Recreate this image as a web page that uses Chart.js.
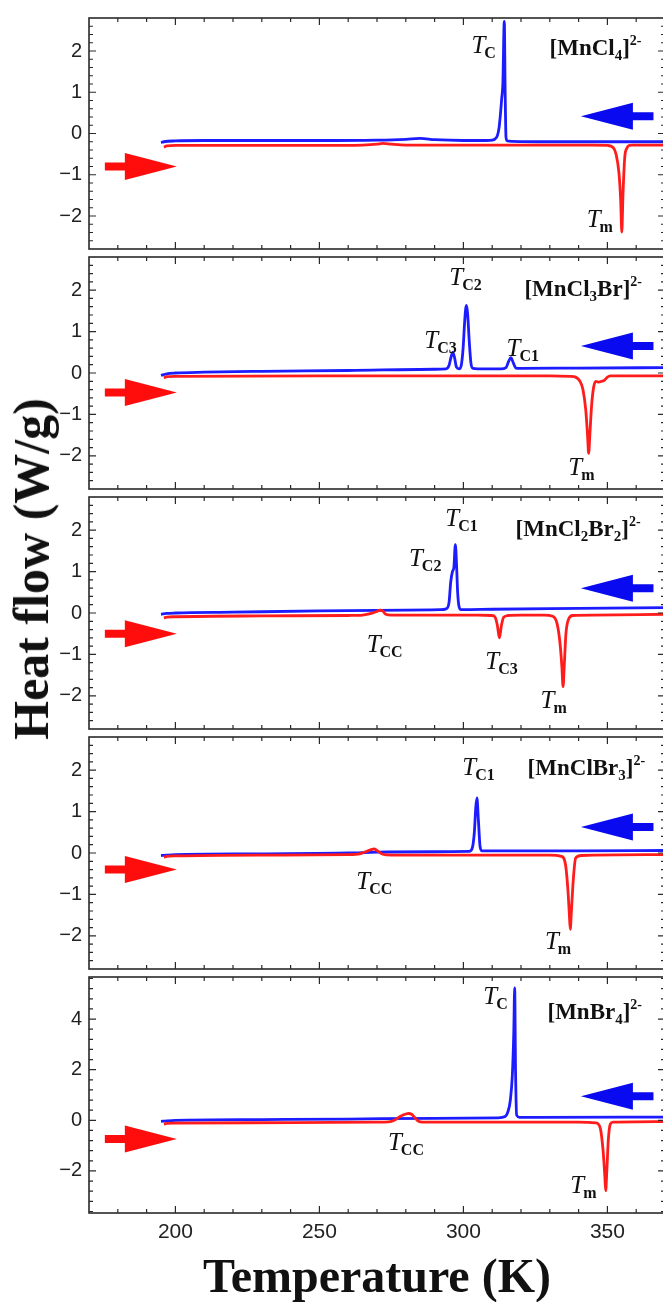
<!DOCTYPE html>
<html lang="en">
<head>
    <meta charset="UTF-8">
    <title>DSC heat flow curves</title>
    <script src="https://cdn.jsdelivr.net/npm/chart.js@4"></script>
    <style>
        html, body {
            margin: 0;
            padding: 0;
            background: #fff;
            overflow: hidden;
        }
        #page {
            position: relative;
            width: 663px;
            height: 1302px;
            overflow: hidden;
        }
        canvas.panel {
            position: absolute;
            left: 0;
        }
        .title {
            position: absolute;
            font-family: "Liberation Serif", "Times New Roman", serif;
            font-weight: bold;
            font-size: 48px;
            line-height: 48px;
            color: #111;
            white-space: nowrap;
        }
        #xtitle {
            left: 89px;
            width: 576px;
            top: 1252px;
            text-align: center;
        }
        #ytitle {
            left: 31px;
            top: 569px;
            font-size: 50px;
            transform: translate(-50%, -50%) rotate(-90deg);
        }
    </style>
</head>
<body>
<div id="page">
    <div id="ytitle" class="title">Heat flow (W/g)</div>
    <div id="xtitle" class="title">Temperature (K)</div>
</div>

<script>
    // ---- data: temperature (K) / heat flow (W/g) ----
    // [MnCl4]2-
    var cool1T = [195, 196, 200, 210, 230, 250, 270, 280, 285, 290, 300, 308, 310, 311, 311.8, 312.4, 312.9, 313.3, 313.7, 314.2, 314.5, 314.8, 315.3, 317, 330, 350, 370];
    var cool1H = [-0.22, -0.2, -0.18, -0.17, -0.17, -0.17, -0.16, -0.14, -0.12, -0.15, -0.17, -0.17, -0.16, -0.13, -0.05, 0.15, 0.5, 0.85, 1.2, 2.72, 1.0, -0.1, -0.18, -0.19, -0.2, -0.2, -0.2];
    var heat1T = [196, 197, 200, 220, 250, 265, 270, 272, 275, 280, 300, 330, 345, 350, 352, 353, 354, 354.6, 355, 355.4, 356, 356.8, 357.5, 358.5, 362, 370];
    var heat1H = [-0.33, -0.3, -0.29, -0.29, -0.29, -0.28, -0.26, -0.24, -0.26, -0.28, -0.28, -0.28, -0.28, -0.29, -0.34, -0.5, -0.95, -1.6, -2.39, -1.5, -0.6, -0.35, -0.29, -0.28, -0.28, -0.28];

    // [MnCl3Br]2-
    var cool2T = [195, 197, 200, 210, 230, 260, 290, 294, 295, 295.7, 296.3, 296.9, 297.6, 298.5, 299.3, 299.9, 300.4, 300.8, 301.1, 301.5, 302, 302.6, 303.3, 305, 313, 314.8, 315.7, 316.5, 317.3, 318.2, 320, 340, 370];
    var cool2H = [-0.06, -0.02, 0.0, 0.02, 0.04, 0.06, 0.09, 0.1, 0.18, 0.38, 0.5, 0.38, 0.14, 0.1, 0.2, 0.6, 1.2, 1.55, 1.63, 1.4, 0.8, 0.25, 0.11, 0.1, 0.1, 0.13, 0.28, 0.37, 0.25, 0.12, 0.11, 0.12, 0.13];
    var heat2T = [196, 197, 200, 250, 300, 330, 337, 339, 340.5, 341.5, 342.5, 343.1, 343.5, 343.9, 344.5, 345.2, 346, 347, 348, 349, 350, 351, 353, 370];
    var heat2H = [-0.12, -0.09, -0.08, -0.07, -0.07, -0.07, -0.08, -0.1, -0.2, -0.4, -0.9, -1.5, -1.94, -1.5, -0.8, -0.35, -0.2, -0.22, -0.2, -0.17, -0.1, -0.07, -0.07, -0.07];

    // [MnCl2Br2]2-
    var cool3T = [195, 197, 200, 220, 250, 280, 292, 294, 295, 295.6, 296.2, 296.7, 297.2, 297.6, 298, 298.5, 299.2, 300, 310, 340, 370];
    var cool3H = [-0.03, -0.01, 0.0, 0.02, 0.05, 0.07, 0.08, 0.1, 0.25, 0.75, 1.0, 1.1, 1.65, 1.2, 0.5, 0.15, 0.08, 0.08, 0.09, 0.11, 0.13];
    var heat3T = [196, 197, 200, 230, 260, 265, 268, 270, 271, 272, 273, 275, 290, 305, 310, 311, 311.8, 312.5, 313.2, 314, 315.5, 320, 328, 331, 332.5, 333.5, 334.2, 334.6, 335, 335.6, 336.5, 338, 345, 370];
    var heat3H = [-0.12, -0.1, -0.09, -0.07, -0.06, -0.05, -0.01, 0.04, 0.07, 0.05, -0.03, -0.05, -0.05, -0.05, -0.06, -0.1, -0.3, -0.6, -0.3, -0.1, -0.06, -0.05, -0.05, -0.08, -0.25, -0.7, -1.3, -1.78, -1.3, -0.5, -0.15, -0.06, -0.05, -0.03];

    // [MnClBr3]2-
    var cool4T = [195, 197, 200, 230, 260, 270, 290, 302, 303, 303.8, 304.3, 304.7, 305.2, 305.8, 306.5, 310, 340, 370];
    var cool4H = [-0.06, -0.05, -0.04, -0.02, 0.0, 0.02, 0.03, 0.04, 0.1, 0.5, 1.1, 1.33, 0.8, 0.15, 0.05, 0.05, 0.05, 0.06];
    var heat4T = [196, 197, 200, 230, 260, 264, 266, 268, 269, 270, 272, 275, 300, 330, 334, 335.5, 336.3, 336.8, 337.1, 337.5, 338.2, 339, 341, 370];
    var heat4H = [-0.1, -0.08, -0.07, -0.05, -0.04, -0.02, 0.03, 0.08, 0.1, 0.06, -0.03, -0.05, -0.05, -0.05, -0.08, -0.3, -0.9, -1.5, -1.84, -1.4, -0.6, -0.12, -0.06, -0.04];

    // [MnBr4]2-
    var cool5T = [195, 197, 200, 230, 260, 290, 312, 314.5, 315.5, 316.3, 317, 317.5, 317.8, 318.1, 318.5, 319.5, 325, 370];
    var cool5H = [-0.04, -0.02, 0.0, 0.03, 0.05, 0.08, 0.1, 0.15, 0.35, 0.8, 1.8, 3.5, 5.23, 2.0, 0.2, 0.12, 0.12, 0.13];
    var heat5T = [196, 197, 200, 240, 270, 274, 276, 278, 280, 281, 282, 283, 284, 285, 287, 300, 340, 346, 347.5, 348.5, 349.1, 349.4, 349.8, 350.3, 351, 352, 360, 370];
    var heat5H = [-0.15, -0.12, -0.11, -0.09, -0.07, -0.06, 0.0, 0.15, 0.25, 0.27, 0.24, 0.12, 0.0, -0.06, -0.07, -0.07, -0.07, -0.1, -0.3, -1.2, -2.2, -2.78, -2.0, -0.8, -0.15, -0.07, -0.06, -0.05];

    // axis ranges and tick labels
    var xRange = [170, 370];
    var xTicks = [200, 250, 300, 350];
    var yRanges = [[-2.8, 2.8], [-2.8, 2.8], [-2.8, 2.8], [-2.8, 2.8], [-3.66, 5.66]];
    var yTicksSmall = [-2, -1, 0, 1, 2];
    var yTicksBig = [-2, 0, 2, 4];

    // compound names: [text, style] pieces
    var names = [
        [['[MnCl', 'n'], ['4', 'ns'], [']', 'n'], ['2-', 'np']],
        [['[MnCl', 'n'], ['3', 'ns'], ['Br]', 'n'], ['2-', 'np']],
        [['[MnCl', 'n'], ['2', 'ns'], ['Br', 'n'], ['2', 'ns'], [']', 'n'], ['2-', 'np']],
        [['[MnClBr', 'n'], ['3', 'ns'], [']', 'n'], ['2-', 'np']],
        [['[MnBr', 'n'], ['4', 'ns'], [']', 'n'], ['2-', 'np']]
    ];

    // ---- placement of decorations (data coordinates) ----
    var namePos = [[329.9, 1.9], [321.2, 1.86], [318.1, 1.87], [322.3, 1.88], [329.2, 4.0]];
    var peakLabels = [
        [['C', 302.8, 1.94], ['m', 342.8, -2.27]],
        [['C3', 286.4, 0.61], ['C2', 295.1, 2.13], ['C1', 315.0, 0.42], ['m', 336.4, -2.45]],
        [['C1', 293.7, 2.1], ['C2', 281.1, 1.13], ['CC', 266.4, -0.93], ['C3', 307.6, -1.36], ['m', 326.8, -2.3]],
        [['C1', 299.6, 1.88], ['CC', 262.8, -0.86], ['m', 328.3, -2.31]],
        [['C', 306.9, 4.58], ['CC', 273.8, -1.19], ['m', 337.1, -2.88]]
    ];
    var heatArrowY = [-0.8, -0.47, -0.5, -0.4, -0.74];
    var coolArrowY = [0.42, 0.65, 0.6, 0.63, 0.95];

    var coolT = [cool1T, cool2T, cool3T, cool4T, cool5T];
    var coolH = [cool1H, cool2H, cool3H, cool4H, cool5H];
    var heatT = [heat1T, heat2T, heat3T, heat4T, heat5T];
    var heatH = [heat1H, heat2H, heat3H, heat4H, heat5H];

    var BLUE = '#1c1cff';
    var RED = '#ff1c1c';
    var INK = '#2a2a2a';
    var SERIF = '"Liberation Serif", "Times New Roman", serif';
    var SANS = '"Liberation Sans", Arial, sans-serif';

    var STYLES = {
        T: { font: 'italic 25px ' + SERIF, dy: 0 },
        s: { font: 'bold 16px ' + SERIF, dy: 5 },
        n: { font: 'bold 23px ' + SERIF, dy: 0 },
        ns: { font: 'bold 15px ' + SERIF, dy: 5 },
        np: { font: 'bold 14px ' + SERIF, dy: -10 }
    };

    var FRAME_TOPS = [14, 253, 493, 733, 973, 1213];
    var PAD = 15, XAXIS_H = 40, CANVAS_W = 668, PLOT_RIGHT = 665, AXIS_W = 89;

    function points(ts, hs) {
        return ts.map(function (t, k) { return { x: t, y: hs[k] }; });
    }

    function fmt(v) {
        return v < 0 ? '\u2212' + Math.abs(v) : String(v);
    }

    function drawRich(ctx, x, y, parts) {
        ctx.textBaseline = 'alphabetic';
        ctx.textAlign = 'left';
        ctx.fillStyle = '#111';
        var cx = x;
        parts.forEach(function (p) {
            var st = STYLES[p[1]];
            ctx.font = st.font;
            ctx.fillText(p[0], cx, y + st.dy);
            cx += ctx.measureText(p[0]).width + (p[1] === 'T' ? -1 : 0);
        });
    }

    function drawArrow(ctx, xTail, xTip, y, color) {
        var dir = xTip > xTail ? 1 : -1;
        var headLen = 52, headH = 13.5, shaftH = 4;
        var xBase = xTip - dir * headLen;
        ctx.beginPath();
        ctx.moveTo(xTail, y - shaftH);
        ctx.lineTo(xBase, y - shaftH);
        ctx.lineTo(xBase, y - headH);
        ctx.lineTo(xTip, y);
        ctx.lineTo(xBase, y + headH);
        ctx.lineTo(xBase, y + shaftH);
        ctx.lineTo(xTail, y + shaftH);
        ctx.closePath();
        ctx.fillStyle = color;
        ctx.fill();
    }

    // arrows, labels, frame and inward ticks
    var decor = {
        id: 'decor',
        afterDatasetsDraw: function (chart, args, o) {
            var ctx = chart.ctx, x = chart.scales.x, y = chart.scales.y;
            ctx.save();
            drawArrow(ctx, x.getPixelForValue(175.5), x.getPixelForValue(200.5), y.getPixelForValue(o.heatArrow), '#ff0d0d');
            drawArrow(ctx, x.getPixelForValue(366), x.getPixelForValue(340.8), y.getPixelForValue(o.coolArrow), '#0a0af0');
            drawRich(ctx, x.getPixelForValue(o.namePos[0]), y.getPixelForValue(o.namePos[1]), o.name);
            o.peaks.forEach(function (pk) {
                drawRich(ctx, x.getPixelForValue(pk[1]), y.getPixelForValue(pk[2]), [['T', 'T'], [pk[0], 's']]);
            });
            ctx.restore();
        },
        afterDraw: function (chart, args, o) {
            var ctx = chart.ctx, a = chart.chartArea, x = chart.scales.x, y = chart.scales.y;
            ctx.save();
            ctx.strokeStyle = INK;
            ctx.lineWidth = 1.6;
            ctx.strokeRect(a.left, a.top, a.right - a.left, a.bottom - a.top);
            ctx.lineWidth = 1.2;
            ctx.beginPath();
            var k, v, px, len;
            for (k = 17; k <= 37; k++) {
                v = k * 10;
                px = x.getPixelForValue(v);
                if (px <= a.left + 1 || px >= a.right - 1) continue;
                len = v % 50 === 0 ? 7 : 4;
                ctx.moveTo(px, a.bottom); ctx.lineTo(px, a.bottom - len);
                ctx.moveTo(px, a.top); ctx.lineTo(px, a.top + len);
            }
            var kMin = Math.ceil(y.min / o.yMinor - 1e-9), kMax = Math.floor(y.max / o.yMinor + 1e-9);
            for (k = kMin; k <= kMax; k++) {
                v = k * o.yMinor;
                px = y.getPixelForValue(v);
                if (px <= a.top + 1 || px >= a.bottom - 1) continue;
                var r = v / o.yMajor;
                len = Math.abs(r - Math.round(r)) < 1e-6 ? 7 : 4;
                ctx.moveTo(a.left, px); ctx.lineTo(a.left + len, px);
                ctx.moveTo(a.right, px); ctx.lineTo(a.right - len, px);
            }
            ctx.stroke();
            ctx.restore();
        }
    };

    var page = document.getElementById('page');

    for (var i = 0; i < 5; i++) {
        (function (i) {
            var top = FRAME_TOPS[i];
            var h = FRAME_TOPS[i + 1] - top;
            var last = i === 4;
            var cv = document.createElement('canvas');
            cv.className = 'panel';
            cv.width = CANVAS_W;
            cv.height = h + PAD + (last ? XAXIS_H : PAD);
            cv.style.top = (top - PAD) + 'px';
            page.insertBefore(cv, page.firstChild);

            var yTicks = last ? yTicksBig : yTicksSmall;

            var xScale = {
                type: 'linear',
                min: xRange[0],
                max: xRange[1],
                display: last,
                grid: { display: false, drawTicks: false },
                border: { display: false },
                afterBuildTicks: function (s) { s.ticks = xTicks.map(function (v) { return { value: v }; }); },
                ticks: {
                    font: { family: SANS, size: 21 },
                    color: '#222',
                    padding: 7,
                    maxRotation: 0,
                    autoSkip: false,
                    callback: function (v) { return String(v); }
                }
            };
            if (last) {
                xScale.afterFit = function (s) { s.height = XAXIS_H; };
            }

            new Chart(cv, {
                type: 'line',
                data: {
                    datasets: [{
                        label: 'heating',
                        data: points(heatT[i], heatH[i]),
                        borderColor: RED
                    }, {
                        label: 'cooling',
                        data: points(coolT[i], coolH[i]),
                        borderColor: BLUE
                    }]
                },
                options: {
                    responsive: false,
                    animation: false,
                    devicePixelRatio: 1,
                    layout: { padding: { top: PAD, bottom: last ? 0 : PAD, left: 0, right: CANVAS_W - PLOT_RIGHT } },
                    elements: {
                        point: { radius: 0 },
                        line: { borderWidth: 2.8, tension: 0.4, cubicInterpolationMode: 'monotone', fill: false }
                    },
                    plugins: {
                        legend: { display: false },
                        tooltip: { enabled: false },
                        decor: {
                            heatArrow: heatArrowY[i],
                            coolArrow: coolArrowY[i],
                            name: names[i],
                            namePos: namePos[i],
                            peaks: peakLabels[i],
                            yMajor: last ? 2 : 1,
                            yMinor: last ? 0.4 : 0.2
                        }
                    },
                    scales: {
                        x: xScale,
                        y: {
                            type: 'linear',
                            min: yRanges[i][0],
                            max: yRanges[i][1],
                            grid: { display: false, drawTicks: false },
                            border: { display: false },
                            afterBuildTicks: function (s) { s.ticks = yTicks.map(function (v) { return { value: v }; }); },
                            afterFit: function (s) { s.width = AXIS_W; },
                            ticks: {
                                font: { family: SANS, size: 20 },
                                color: '#222',
                                padding: 7,
                                callback: function (v) { return fmt(v); }
                            }
                        }
                    }
                },
                plugins: [decor]
            });
        })(i);
    }
</script>
</body>
</html>
